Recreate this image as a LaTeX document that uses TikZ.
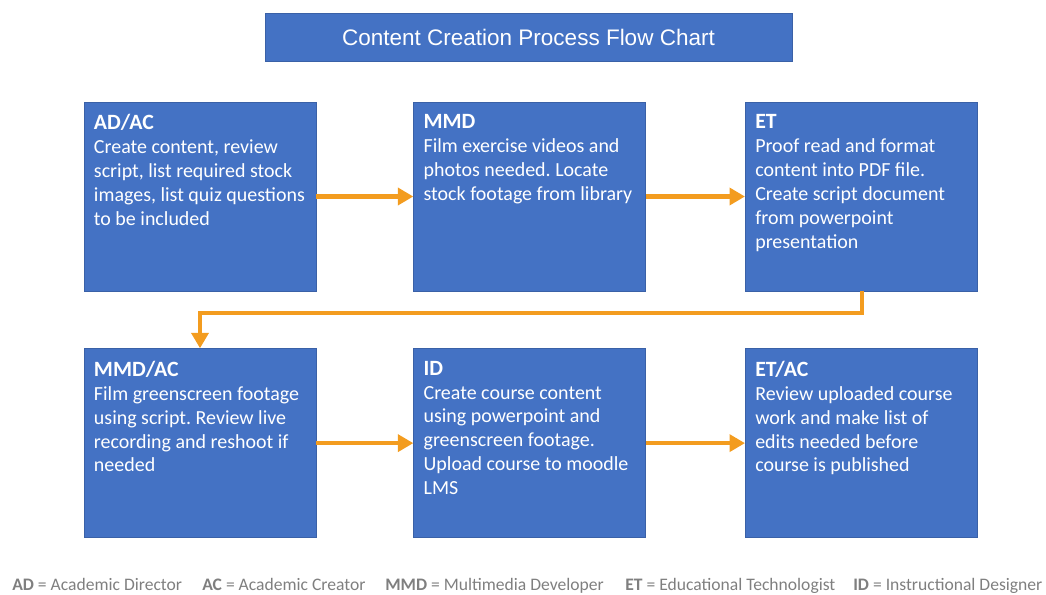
\documentclass[tikz,border=0pt]{standalone}
\usepackage{fontspec}
\setmainfont{Carlito}
\newfontfamily\titlefont{Liberation Sans}
\usetikzlibrary{positioning,arrows.meta}
\frenchspacing

\definecolor{boxblue}{HTML}{4472C4}
\definecolor{flow}{HTML}{F39C1F}
\definecolor{legendgray}{HTML}{7F7F7F}

\tikzset{
	stage/.style={draw=boxblue!85!black, fill=boxblue, text=white, thin,
		minimum width=5.8cm, minimum height=4.725cm, inner sep=0pt},
	flowarrow/.style={draw=flow, line width=3pt, -{Triangle[length=11pt,width=12pt]}},
	legend/.style={anchor=base west, inner sep=0pt, text=legendgray, font=\fontsize{12.5}{15}\selectfont}
}
\newcommand{\stagetext}[2]{\parbox[c][4.225cm][t]{5.3cm}{\vspace*{0.06cm}\fontsize{14.2}{17}\selectfont{\fontsize{15.5}{17}\selectfont\textbf{#1}}\\#2}}

\begin{document}
\begin{tikzpicture}[x=0.025cm, y=-0.025cm]
	\useasboundingbox (0,0) rectangle (1046,594);

	% title
	\node [fill=boxblue, draw=boxblue!85!black, text=white, minimum width=13.175cm, minimum height=1.2cm,
		font=\titlefont\fontsize{16}{19}\selectfont] (title) at (528.5,37) {Content Creation Process Flow Chart};

	% first row
	\node [stage] (adac) at (200,196.5) {\stagetext{AD/AC}{Create content, review\\script, list required stock\\images, list quiz questions\\to be included}};
	\node [stage, right=2.425cm of adac] (mmd) {\stagetext{MMD}{Film exercise videos and\\photos needed. Locate\\stock footage from library}};
	\node [stage, right=2.475cm of mmd] (et) {\stagetext{ET}{Proof read and format\\content into PDF file.\\Create script document\\from powerpoint\\presentation}};

	% second row
	\node [stage, below=1.425cm of adac] (mmdac) {\stagetext{MMD/AC}{Film greenscreen footage\\using script. Review live\\recording and reshoot if\\needed}};
	\node [stage, below=1.425cm of mmd] (id) {\stagetext{ID}{Create course content\\using powerpoint and\\greenscreen footage.\\Upload course to moodle\\LMS}};
	\node [stage, below=1.425cm of et] (etac) {\stagetext{ET/AC}{Review uploaded course\\work and make list of\\edits needed before\\course is published}};

	% connectors
	\coordinate (turn) at (862,313);
	\draw [flowarrow] (adac) -- (mmd);
	\draw [flowarrow] (mmd) -- (et);
	\draw [flowarrow] (et.south -| turn) -- (turn) -| (mmdac.north);
	\draw [flowarrow] (mmdac) -- (id);
	\draw [flowarrow] (id) -- (etac);

	% legend
	\node [legend] (lad) at (12,590) {\textbf{AD} = Academic Director};
	\node [legend] (lac) at (202,590) {\textbf{AC} = Academic Creator};
	\node [legend] (lmmd) at (385,590) {\textbf{MMD} = Multimedia Developer};
	\node [legend] (let) at (625,590) {\textbf{ET} = Educational Technologist};
	\node [legend] (lid) at (853,590) {\textbf{ID} = Instructional Designer};
\end{tikzpicture}
\end{document}
